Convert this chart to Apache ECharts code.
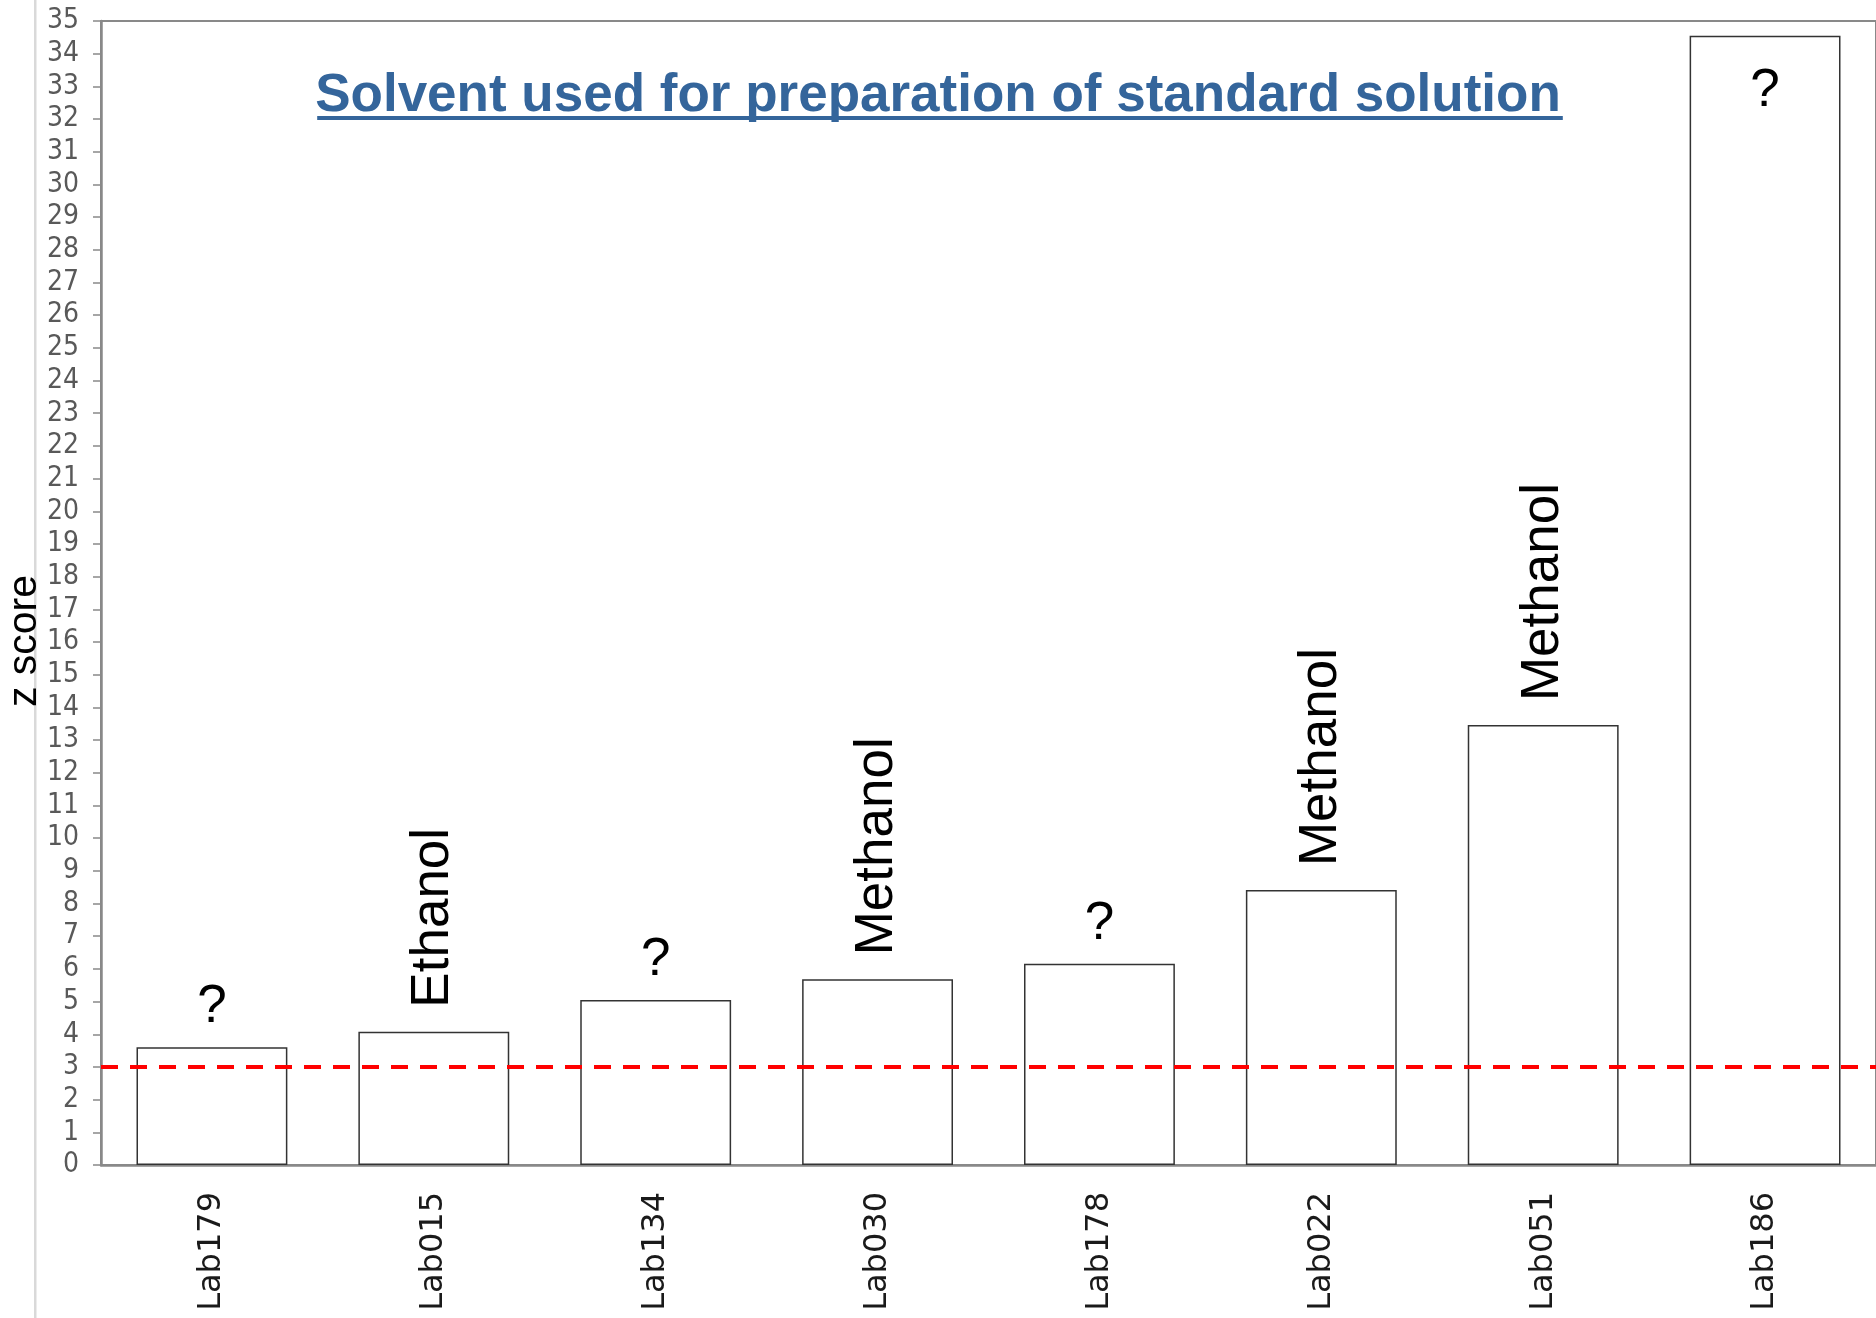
<!DOCTYPE html>
<html>
<head>
<meta charset="utf-8">
<script src="https://cdn.jsdelivr.net/npm/echarts@6/dist/echarts.min.js"></script>
<style>
  html, body { margin: 0; padding: 0; background: #fff; }
  #chart { width: 1876px; height: 1318px; }
</style>
</head>
<body>
<div id="chart"></div>
<script>
// ---- data ----
const categories = ['Lab179', 'Lab015', 'Lab134', 'Lab030', 'Lab178', 'Lab022', 'Lab051', 'Lab186'];
const zScores = [3.6, 4.08, 5.05, 5.68, 6.16, 8.41, 13.46, 34.55];
const solvents = ['?', 'Ethanol', '?', 'Methanol', '?', 'Methanol', 'Methanol', '?'];
const yMin = 0;
const yMax = 35;
const yInterval = 1;
const limitValue = 3;
const titleText = 'Solvent used for preparation of standard solution';
const yAxisTitle = 'z score';

// ---- styles ----
const annoFont = '"Liberation Sans", Arial, sans-serif';
const titleFontSize = 53;
const titleColor = '#34659b';

function measure(text, font) {
  const c = document.createElement('canvas').getContext('2d');
  c.font = font;
  return c.measureText(text).width;
}
const titleWidth = measure(titleText, 'bold ' + titleFontSize + 'px "Liberation Sans"');

const lastIdx = zScores.length - 1;
const barData = zScores.map((v, i) => {
  const txt = solvents[i];
  let label;
  if (txt === '?' && i === lastIdx) {
    label = { show: true, position: 'insideTop', distance: 29, formatter: txt };
  } else if (txt === '?') {
    label = { show: true, position: 'top', distance: 13, formatter: txt };
  } else {
    label = { show: true, position: 'top', rotate: 90, align: 'left', verticalAlign: 'middle', distance: 24, formatter: txt };
  }
  return { value: v, label: label };
});

const chart = echarts.init(document.getElementById('chart'), null, { renderer: 'canvas' });
chart.setOption({
  animation: false,
  backgroundColor: '#ffffff',
  title: {
    text: titleText,
    left: 'center',
    top: 65,
    textStyle: {
      fontFamily: annoFont,
      fontWeight: 'bold',
      fontSize: titleFontSize,
      color: titleColor
    }
  },
  graphic: [
    {
      type: 'rect',
      shape: { x: 940 - titleWidth / 2, y: 116, width: titleWidth, height: 4 },
      style: { fill: titleColor },
      silent: true
    },
    {
      type: 'rect',
      shape: { x: 34, y: 0, width: 2.5, height: 1318 },
      style: { fill: '#d9d9d9' },
      silent: true
    },
    {
      type: 'text',
      x: 25,
      y: 641,
      rotation: Math.PI / 2,
      style: {
        text: yAxisTitle,
        fontFamily: annoFont,
        fontSize: 41,
        fill: '#000',
        align: 'center',
        verticalAlign: 'middle'
      },
      silent: true
    }
  ],
  grid: {
    left: 101,
    right: -7,
    top: 21,
    bottom: 153,
    show: true,
    borderColor: '#898989',
    borderWidth: 2,
    containLabel: false
  },
  xAxis: {
    type: 'category',
    data: categories,
    axisLine: { show: true, lineStyle: { color: '#898989', width: 2.5 } },
    axisTick: { show: false },
    axisLabel: {
      rotate: 90,
      margin: 27,
      fontFamily: '"Century Gothic", "DejaVu Sans", sans-serif',
      fontSize: 32,
      color: '#1a1a1a'
    },
    splitLine: { show: false }
  },
  yAxis: {
    type: 'value',
    min: yMin,
    max: yMax,
    interval: yInterval,
    axisLine: { show: true, lineStyle: { color: '#898989', width: 2.5 } },
    axisTick: { show: true, inside: false, length: 8, lineStyle: { color: '#898989', width: 1.5 } },
    axisLabel: {
      margin: 22,
      fontFamily: '"Century Gothic", "Liberation Sans Narrow", "DejaVu Sans Condensed", "Liberation Sans", sans-serif',
      fontSize: 28,
      color: '#595959'
    },
    splitLine: { show: false }
  },
  series: [
    {
      type: 'bar',
      data: barData,
      barCategoryGap: '32%',
      itemStyle: { color: '#ffffff', borderColor: '#333333', borderWidth: 1.5 },
      label: {
        fontFamily: annoFont,
        fontSize: 53,
        color: '#000000'
      },
      markLine: {
        silent: true,
        symbol: ['none', 'none'],
        label: { show: false },
        lineStyle: { color: '#ff0000', type: [17, 12], width: 4 },
        data: [{ yAxis: limitValue }]
      }
    }
  ]
});
</script>
</body>
</html>
